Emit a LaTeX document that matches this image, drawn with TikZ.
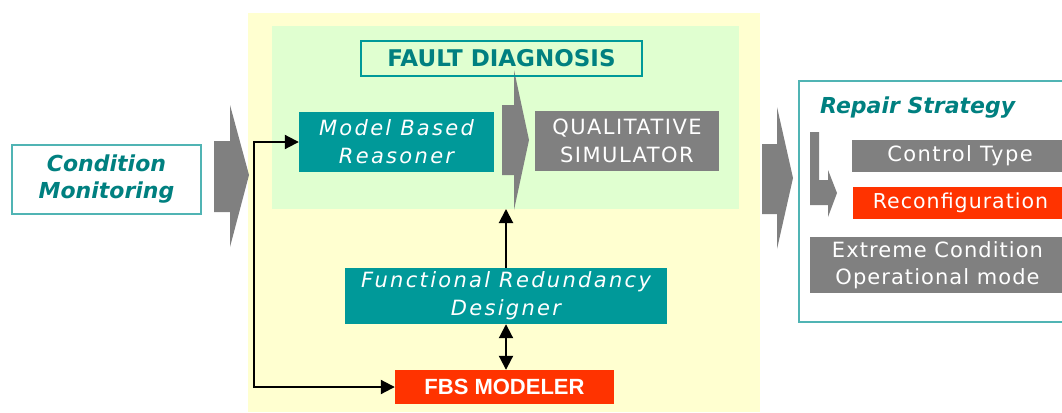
\documentclass[tikz,border=0pt]{standalone}
\usepackage{fontspec}
\setmainfont{DejaVu Sans}
\newfontfamily\lsit[LetterSpace=11]{DejaVu Sans}
\newfontfamily\lsup[LetterSpace=5]{DejaVu Sans}
\newfontfamily\lsupw[LetterSpace=7]{DejaVu Sans}
\newfontfamily\arialb{Liberation Sans}
\usetikzlibrary{arrows.meta}
\definecolor{tealfill}{RGB}{0,153,153}
\definecolor{tealtext}{RGB}{0,128,128}
\definecolor{tealline}{RGB}{80,180,180}
\definecolor{grayfill}{RGB}{128,128,128}
\definecolor{redfill}{RGB}{255,51,0}
\definecolor{bgyellow}{RGB}{255,255,208}
\definecolor{bggreen}{RGB}{224,255,208}
\tikzset{
  tealbox/.style={fill=tealfill, text=white, inner sep=0pt, align=center,
    font=\lsit\itshape\fontsize{21}{28}\selectfont},
  graybox/.style={fill=grayfill, text=white, inner sep=0pt, align=center,
    font=\lsupw\fontsize{21}{28}\selectfont},
  redbox/.style={fill=redfill, text=white, inner sep=0pt, align=center},
  outlinebox/.style={draw=tealline, line width=1.5pt, inner sep=0pt, align=center},
  bigarrow/.style={fill=grayfill, draw=none},
  conn/.style={line width=2pt, -{Triangle[length=14pt,width=14pt]}},
  dconn/.style={line width=2pt, {Triangle[length=14pt,width=14pt]}-{Triangle[length=14pt,width=14pt]}},
}
\begin{document}
\begin{tikzpicture}[x=1pt,y=-1pt]
\useasboundingbox (0,0) rectangle (1062,412);
\clip (0,0) rectangle (1062,412);
\fill[white] (0,0) rectangle (1062,412);
% backgrounds
\fill[bgyellow] (248,13) rectangle (760,412);
\fill[bggreen] (272,26) rectangle (739,209);
% big gray arrows
\fill[bigarrow] (214,141) -- (230,141) -- (230,105) -- (249,175) -- (230,247) -- (230,212) -- (214,212) -- cycle;
\fill[bigarrow] (502,105) -- (514,105) -- (514,70) -- (529,140) -- (514,210) -- (514,175) -- (502,175) -- cycle;
\fill[bigarrow] (762,144) -- (777,144) -- (777,107) -- (793,178) -- (777,249) -- (777,214) -- (762,214) -- cycle;
% L-shaped arrow
\fill[bigarrow] (810,132) -- (819,132) -- (819,180) -- (828,180) -- (828,170) -- (837,193) -- (828,217) -- (828,205) -- (810,205) -- cycle;
% nodes
\node[outlinebox, minimum width=189pt, minimum height=69pt, text=tealtext,
  font=\bfseries\itshape\fontsize{22}{27}\selectfont] (cm) at (106.5,179.5) {Condition\\Monitoring};
\node[outlinebox, draw=tealfill, minimum width=281pt, minimum height=35pt, text=tealtext,
  font=\bfseries\fontsize{23}{27}\selectfont] (fd) at (501.5,58.5) {FAULT DIAGNOSIS};
\node[tealbox, minimum width=195pt, minimum height=60pt] (mbr) at (396.5,142) {Model Based\\Reasoner};
\node[graybox, minimum width=184pt, minimum height=60pt] (qs) at (627,141) {QUALITATIVE\\SIMULATOR};
\node[tealbox, minimum width=322pt, minimum height=56pt] (frd) at (506,296) {Functional Redundancy\\Designer};
\node[redbox, minimum width=219pt, minimum height=34pt,
  font=\arialb\bfseries\fontsize{22}{26}\selectfont] (fbs) at (504.5,387) {FBS MODELER};
% repair strategy
\node[outlinebox, minimum width=290pt, minimum height=241pt] (rsbox) at (944,201.5) {};
\node[anchor=base west, inner sep=0pt, text=tealtext,
  font=\bfseries\itshape\fontsize{22}{26}\selectfont] (rst) at (820,113) {Repair Strategy};
\node[graybox, minimum width=216pt, minimum height=32pt] (ct) at (960,156) {Control Type};
\node[redbox, minimum width=215pt, minimum height=32pt,
  font=\lsup\fontsize{20.5}{27.5}\selectfont] (rc) at (960.5,203) {Reconfiguration};
\node[graybox, minimum width=255pt, minimum height=56pt,
  font=\lsup\fontsize{21}{27}\selectfont] (ec) at (937.5,265) {Extreme Condition\\Operational mode};
% connectors
\coordinate (lx) at (254,0);
\coordinate (fdb) at (506,209);
\draw[dconn] (mbr.west) -- (mbr.west -| lx) -- (fbs.west -| lx) -- (fbs.west);
\draw[conn] (frd.north) -- (fdb);
\draw[dconn] (frd.south) -- (frd.south |- fbs.north);
\end{tikzpicture}
\end{document}
